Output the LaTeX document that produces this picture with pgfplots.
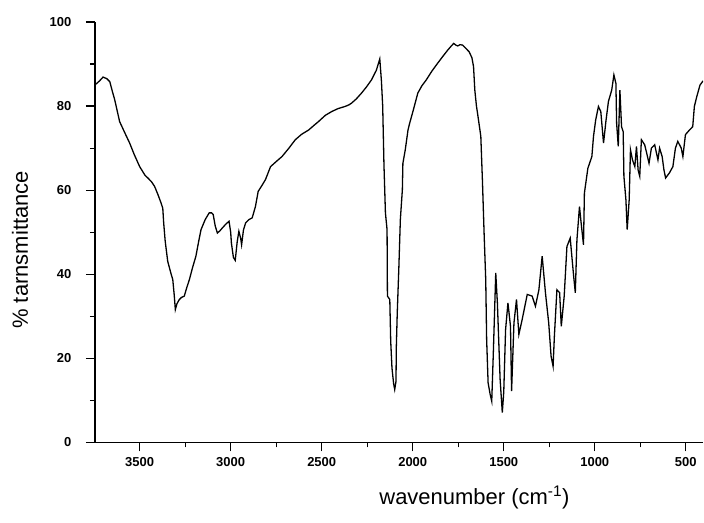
\documentclass[border=0pt]{standalone}
\usepackage{pgfplots}
\pgfplotsset{compat=1.18}
\usepackage{fontspec}
\setmainfont{Liberation Sans}
\begin{document}
\begin{tikzpicture}
\begin{axis}[
  name=ax,
  scale only axis,
  width=609pt, height=421pt,
  x dir=reverse,
  xmin=405, xmax=3746,
  ymin=0, ymax=100,
  axis x line*=bottom,
  axis y line*=left,
  axis line style={line width=1.8pt},
  xtick={500,1000,1500,2000,2500,3000,3500},
  ytick={0,20,40,60,80,100},
  minor x tick num=1,
  minor y tick num=1,
  tick align=outside,
  major tick length=9pt,
  minor tick length=5pt,
  every tick/.style={black, line width=1.2pt},
  /pgf/number format/assume math mode=true,
  /pgf/number format/1000 sep={},
  ticklabel style={font=\fontsize{13}{13}\selectfont\bfseries},
  xticklabel style={yshift=-2pt},
  yticklabel style={xshift=-11pt},
  xlabel={wavenumber (cm\textsuperscript{-1})},
  ylabel={\% tarnsmittance},
  every axis x label/.style={at={(axis description cs:0.624,-0.147)}, anchor=base, font=\fontsize{22}{24}\selectfont},
  every axis y label/.style={at={(axis description cs:-0.123,0.458)}, rotate=90, anchor=center, font=\fontsize{22}{24}\selectfont},
  clip=true,
]
\addplot[black, line width=1.3pt] table {
x y
3746 85.0
3720 86.0
3701 86.9
3680 86.5
3664 85.8
3650 83.5
3637 81.5
3610 76.3
3580 73.5
3555 71.2
3530 68.5
3500 65.6
3470 63.5
3455 62.9
3435 62.0
3418 60.9
3400 59.0
3382 56.9
3373 55.7
3368 52.2
3360 48.0
3346 43.1
3330 40.5
3318 38.7
3310 35.0
3304 31.6
3295 33.0
3282 34.0
3270 34.5
3255 34.8
3240 37.0
3227 38.7
3210 41.5
3191 44.3
3175 48.0
3163 50.6
3140 53.0
3118 54.6
3105 54.6
3096 54.2
3085 51.5
3073 49.8
3060 50.3
3046 51.0
3025 52.0
3009 52.6
3000 50.0
2996 47.4
2985 44.0
2975 43.3
2964 47.8
2955 50.2
2945 48.5
2940 47.0
2930 50.5
2918 52.2
2900 53.0
2882 53.4
2864 56.1
2849 59.7
2830 61.0
2809 62.5
2781 65.6
2750 66.8
2718 68.0
2680 70.0
2645 72.0
2610 73.3
2572 74.3
2540 75.5
2518 76.3
2480 77.8
2445 78.7
2410 79.4
2372 79.9
2350 80.3
2336 80.7
2310 81.7
2281 83.1
2255 84.5
2227 86.2
2200 88.5
2181 91.2
2172 86.0
2165 80.0
2158 66.0
2150 54.6
2141 50.6
2139 34.8
2126 34.0
2121 24.1
2114 17.7
2105 14.0
2099 12.6
2092 14.5
2090 22.9
2085 30.8
2076 41.9
2068 53.0
2057 60.1
2054 66.4
2041 69.6
2026 74.3
2017 75.9
1999 78.7
1972 83.1
1950 84.8
1926 86.2
1895 88.3
1863 90.2
1835 91.8
1808 93.3
1790 94.2
1775 94.9
1763 94.5
1753 94.3
1740 94.6
1726 94.5
1710 93.8
1690 92.9
1675 91.5
1666 89.4
1659 83.8
1650 80.0
1644 78.3
1626 72.8
1617 62.1
1608 49.8
1599 38.7
1594 24.5
1586 14.2
1575 11.5
1566 9.8
1557 21.7
1544 40.3
1535 33.2
1520 15.0
1508 7.1
1500 12.0
1490 26.8
1477 33.2
1463 27.6
1457 12.2
1444 28.4
1430 34.0
1417 25.7
1399 29.2
1371 35.2
1344 34.8
1326 32.4
1307 36.3
1289 44.3
1271 35.6
1253 28.4
1240 20.5
1229 18.1
1222 25.2
1208 36.3
1193 35.6
1184 27.6
1168 34.8
1153 46.6
1135 48.6
1116 39.5
1107 35.6
1098 48.2
1084 56.1
1075 52.2
1062 47.0
1057 59.3
1038 65.2
1016 68.0
1007 72.8
995 76.7
980 79.9
967 78.7
952 71.2
938 76.7
925 81.1
907 83.8
895 87.4
884 85.4
880 75.9
871 70.4
862 83.8
853 75.1
844 73.9
840 63.3
829 57.7
822 50.6
811 57.7
804 69.6
793 67.2
780 65.6
771 70.4
762 64.8
753 63.3
744 72.0
726 70.8
717 69.2
702 66.4
689 70.0
671 70.8
653 67.2
644 70.0
630 68.0
620 64.8
611 62.9
590 64.1
571 65.6
557 70.0
544 71.6
525 70.0
516 68.0
502 73.2
480 74.3
462 75.1
453 79.9
440 82.2
422 85.0
405 86.0
};
\end{axis}
\path ([shift={(-95pt,-80pt)}]ax.south west) rectangle ([shift={(0pt,22pt)}]ax.north east);
\end{tikzpicture}
\end{document}
